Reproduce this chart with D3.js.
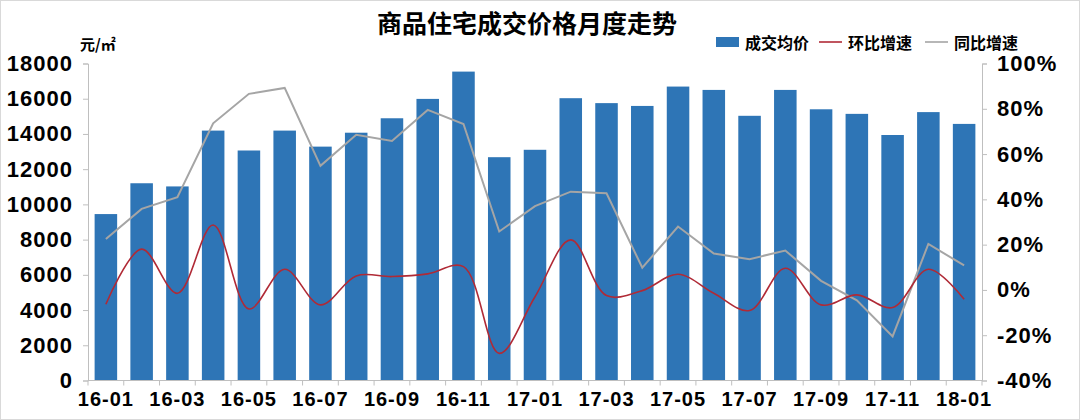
<!DOCTYPE html>
<html>
<head>
<meta charset="utf-8">
<script src="https://cdn.jsdelivr.net/npm/d3@7"></script>
<style>
  body { margin: 0; background: #fff; }
  svg { display: block; }
  text { font-family: "Liberation Sans", "Noto Sans CJK SC", sans-serif; font-weight: bold; fill: #000; }
</style>
</head>
<body>
<svg id="chart" width="1080" height="420"></svg>
<script>
// Monthly data
var months = ['16-01', '16-02', '16-03', '16-04', '16-05', '16-06', '16-07', '16-08', '16-09', '16-10', '16-11', '16-12',
  '17-01', '17-02', '17-03', '17-04', '17-05', '17-06', '17-07', '17-08', '17-09', '17-10', '17-11', '17-12', '18-01']
var avgPrice = [9450, 11200, 11020, 14190, 13060, 14190, 13280, 14070, 14890, 15990, 17540, 12680,
  13100, 16030, 15750, 15590, 16690, 16500, 15030, 16500, 15400, 15140, 13940, 15240, 14570]
var momGrowth = [-6.3, 18.0, -1.5, 28.7, -8.4, 9.1, -6.6, 6.2, 5.9, 7.1, 10.3, -28.0,
  -3.0, 22.1, -2.5, -0.3, 6.9, -1.5, -9.1, 9.6, -6.6, -2.2, -7.8, 9.1, -4.1]
var yoyGrowth = [22.5, 35.8, 41.0, 73.6, 86.6, 89.2, 54.8, 68.5, 65.8, 79.5, 73.3, 25.8,
  37.0, 43.4, 42.7, 9.8, 28.0, 16.1, 13.6, 17.4, 4.0, -4.6, -20.5, 20.3, 10.8]
var leftTicks = [0, 2000, 4000, 6000, 8000, 10000, 12000, 14000, 16000, 18000]
var rightTicks = [-40, -20, 0, 20, 40, 60, 80, 100]
var legendItems = [
  { name: '成交均价', type: 'bar' },
  { name: '环比增速', type: 'line', color: '#B02A36' },
  { name: '同比增速', type: 'line', color: '#A5A5A5' }
]

var barColor = '#2E75B6'
var axisColor = '#BFBFBF'
var plot = { left: 88, right: 982, top: 63.5, bottom: 380.5 }

var svg = d3.select('#chart')

// light frame round the picture
svg.append('rect')
  .attr('x', 0.5).attr('y', 0.5)
  .attr('width', 1079).attr('height', 419)
  .attr('fill', 'none').attr('stroke', '#D9D9D9')

var x = d3.scaleBand()
  .domain(months)
  .range([plot.left, plot.right])
  .paddingInner(0.37)
  .paddingOuter(0.185)

var yLeft = d3.scaleLinear().domain([0, 18000]).range([plot.bottom, plot.top])
var yRight = d3.scaleLinear().domain([-40, 100]).range([plot.bottom, plot.top])

// Title
svg.append('text')
  .attr('x', 527).attr('y', 33)
  .attr('text-anchor', 'middle')
  .style('font-family', '"Noto Sans CJK SC", sans-serif')
  .style('font-size', '25px')
  .text('商品住宅成交价格月度走势')

// Unit label
svg.append('text')
  .attr('x', 80).attr('y', 50)
  .style('font-family', '"Noto Sans CJK SC", sans-serif')
  .style('font-size', '15px')
  .text('元/㎡')

// Bars
svg.append('g').selectAll('rect')
  .data(months)
  .enter().append('rect')
  .attr('x', function (d) { return x(d) })
  .attr('width', x.bandwidth())
  .attr('y', function (d, i) { return yLeft(avgPrice[i]) })
  .attr('height', function (d, i) { return yLeft(0) - yLeft(avgPrice[i]) })
  .attr('fill', barColor)

// Axes
var leftAxis = svg.append('g')
  .attr('transform', 'translate(' + plot.left + ',0)')
  .call(d3.axisLeft(yLeft).tickValues(leftTicks).tickSize(5).tickPadding(10).tickFormat(d3.format('d')))
var rightAxis = svg.append('g')
  .attr('transform', 'translate(' + plot.right + ',0)')
  .call(d3.axisRight(yRight).tickValues(rightTicks).tickSize(5).tickPadding(10).tickFormat(function (d) { return d + '%' }))

;[leftAxis, rightAxis].forEach(function (g) {
  g.select('.domain').attr('stroke', axisColor)
  g.selectAll('.tick line').attr('stroke', axisColor)
  g.selectAll('.tick text')
    .style('font-size', '22px')
    .style('font-family', '"Liberation Sans", sans-serif')
    .style('font-weight', 'bold')
    .style('letter-spacing', '1px')
    .attr('fill', '#000')
})

// x axis: ticks at every category boundary, labels every second month
var xAxisG = svg.append('g')
  .attr('transform', 'translate(0,' + plot.bottom + ')')
xAxisG.append('line')
  .attr('x1', plot.left).attr('x2', plot.right)
  .attr('stroke', axisColor)
xAxisG.selectAll('line.tick')
  .data(months.concat(['end']))
  .enter().append('line')
  .attr('class', 'tick')
  .attr('x1', function (d, i) { return plot.left + i * x.step() })
  .attr('x2', function (d, i) { return plot.left + i * x.step() })
  .attr('y1', 0).attr('y2', 5)
  .attr('stroke', axisColor)
xAxisG.selectAll('text')
  .data(months.filter(function (d, i) { return i % 2 === 0 }))
  .enter().append('text')
  .attr('x', function (d) { return x(d) + x.bandwidth() / 2 })
  .attr('y', 25)
  .attr('text-anchor', 'middle')
  .style('font-size', '20px')
  .style('letter-spacing', '1px')
  .text(function (d) { return d })

// Lines
var cx = function (d, i) { return x(months[i]) + x.bandwidth() / 2 }

svg.append('path')
  .datum(yoyGrowth)
  .attr('fill', 'none')
  .attr('stroke', '#A5A5A5')
  .attr('stroke-width', 2)
  .attr('d', d3.line().x(cx).y(function (d) { return yRight(d) }))

svg.append('path')
  .datum(momGrowth)
  .attr('fill', 'none')
  .attr('stroke', '#B02A36')
  .attr('stroke-width', 1.6)
  .attr('d', d3.line().x(cx).y(function (d) { return yRight(d) }).curve(d3.curveCatmullRom.alpha(0.5)))

// Legend
var legend = svg.append('g')
var legendX = [716, 819, 925]
legendItems.forEach(function (item, i) {
  var g = legend.append('g').attr('transform', 'translate(' + legendX[i] + ',0)')
  if (item.type === 'bar') {
    g.append('rect').attr('x', 0).attr('y', 37).attr('width', 23).attr('height', 10).attr('fill', barColor)
  } else {
    g.append('line').attr('x1', 0).attr('x2', 23).attr('y1', 42).attr('y2', 42)
      .attr('stroke', item.color).attr('stroke-width', 1.6)
  }
  g.append('text')
    .attr('x', 29).attr('y', 49)
    .style('font-family', '"Noto Sans CJK SC", sans-serif')
    .style('font-size', '16px')
    .text(item.name)
})
</script>
</body>
</html>
